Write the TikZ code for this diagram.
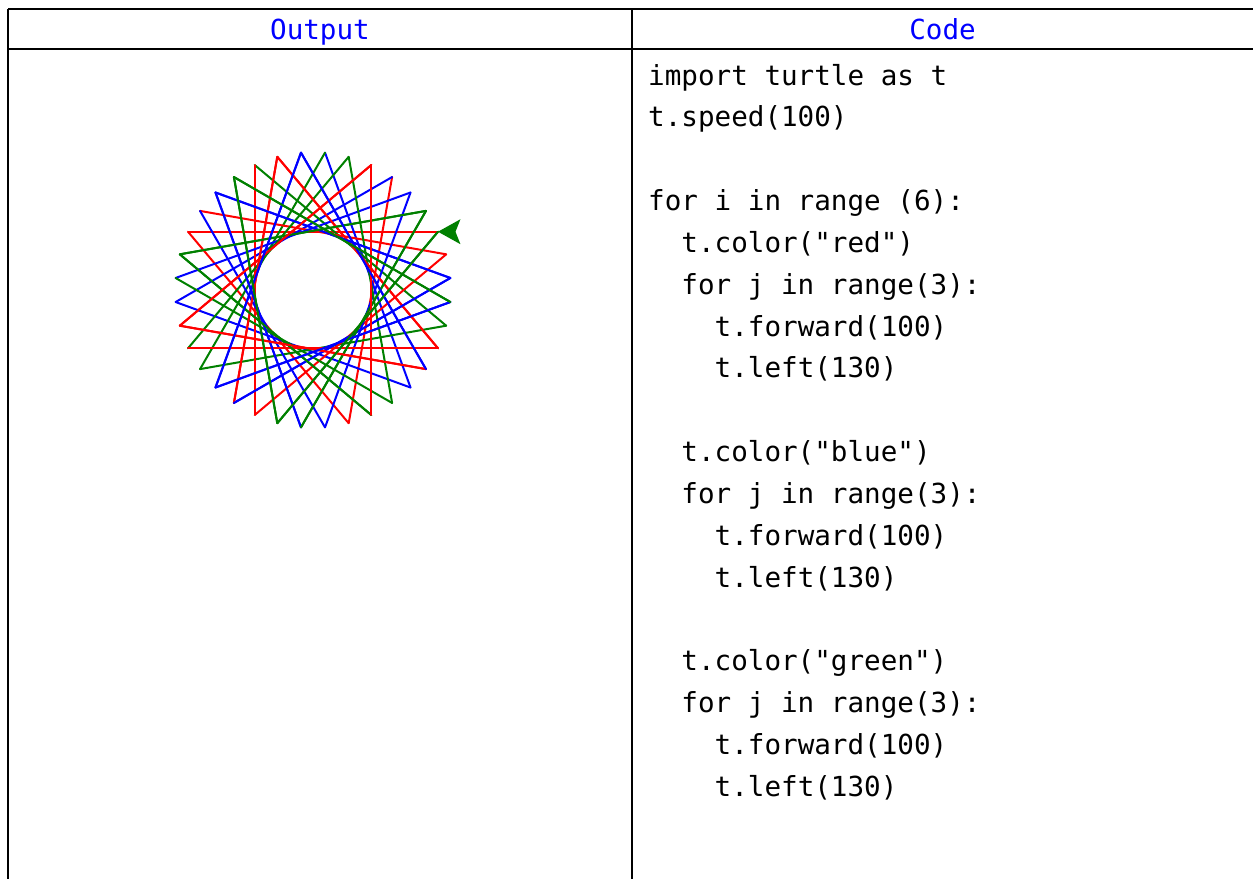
\documentclass[tikz,border=0pt]{standalone}
\usepackage{fontspec}
\setmonofont{DejaVu Sans Mono}
\begin{document}
\begin{tikzpicture}[x=1pt,y=1pt,
  rule/.style={line width=2pt,black},
  head/.style={font=\fontsize{27.6}{33}\selectfont\ttfamily,text=blue,inner sep=0pt},
  codeline/.style={font=\fontsize{27.6}{33}\selectfont\ttfamily,text=black,inner sep=0pt,anchor=base west},
  trace/.style={line width=2pt,line join=round,line cap=round}]
\useasboundingbox (0,0) rectangle (1253,-879);
\colorlet{c0}{red}
\colorlet{c1}{blue}
\definecolor{c2}{RGB}{0,128,0}
% table rules
\coordinate (TL) at (8,-9);
\coordinate (TR) at (1253,-9);
\coordinate (HL) at (8,-49);
\coordinate (HR) at (1253,-49);
\coordinate (BL) at (8,-879);
\coordinate (MT) at (632,-9);
\coordinate (MB) at (632,-879);
\draw[rule] (TL) -- (TR);
\draw[rule] (HL) -- (HR);
\draw[rule] (TL) -- (BL);
\draw[rule] (MT) -- (MB);
% headers
\node[head,anchor=base] (hout) at (320,-39) {Output};
\node[head,anchor=base] (hcode) at (942.5,-39) {Code};
% code
\foreach \t [count=\i from 0] in {
  {import turtle as t},
  {t.speed(100)},
  {},
  {for i in range (6):},
  {\ \ t.color("red")},
  {\ \ for j in range(3):},
  {\ \ \ \ t.forward(100)},
  {\ \ \ \ t.left(130)},
  {},
  {\ \ t.color("blue")},
  {\ \ for j in range(3):},
  {\ \ \ \ t.forward(100)},
  {\ \ \ \ t.left(130)},
  {},
  {\ \ t.color("green")},
  {\ \ for j in range(3):},
  {\ \ \ \ t.forward(100)},
  {\ \ \ \ t.left(130)}}
  {\node[codeline] (code\i) at (648,{-85-41.85*\i}) {\t};}
% turtle drawing
\coordinate (C) at (313,-290);
\begin{scope}[shift={(C)}]
  \foreach \k in {0,...,53}{
    \pgfmathtruncatemacro\g{mod(floor(\k/3),3)}
    \draw[trace,color=c\g] ({205+130*\k}:137.9) -- ({205+130*(\k+1)}:137.9);
  }
  \coordinate (E) at (25:137.9);
\end{scope}
\fill[c2] (E) -- ++(22.5,12.5) -- ++(-5,-12.5) -- ++(5,-12.5) -- cycle;
\end{tikzpicture}
\end{document}
